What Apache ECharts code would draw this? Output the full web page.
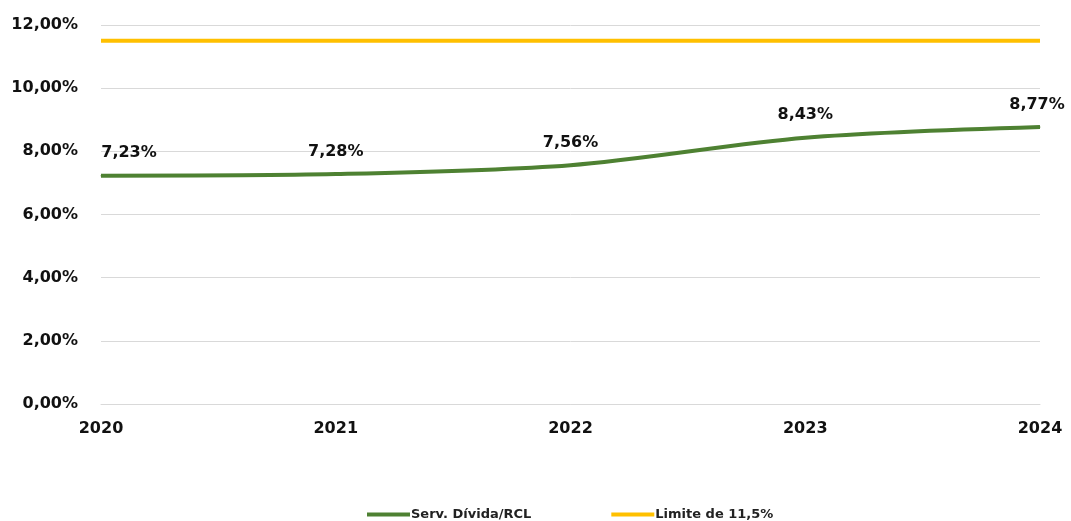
<!DOCTYPE html>
<html>
<head>
<meta charset="utf-8">
<script src="https://cdn.jsdelivr.net/npm/echarts@6/dist/echarts.min.js"></script>
<style>
  html, body { margin: 0; padding: 0; background: #fff; }
  #chart { width: 1071px; height: 521px; }
</style>
</head>
<body>
<div id="chart"></div>
<script>
// dados
const years = ['2020', '2021', '2022', '2023', '2024']
const servDivida = [7.23, 7.28, 7.56, 8.43, 8.77]
const limite = [11.5, 11.5, 11.5, 11.5, 11.5]
const yTicks = { min: 0, max: 12, interval: 2 }

const fmt = v => v.toFixed(2).replace('.', ',') + '%'
const font = 'DejaVu Sans'

const chart = echarts.init(document.getElementById('chart'))

chart.setOption({
  animation: false,
  textStyle: { fontFamily: font },
  grid: { left: 101, right: 31, top: 25, bottom: 117 },
  legend: {
    top: 503,
    left: 362,
    icon: 'rect',
    itemWidth: 43,
    itemHeight: 4,
    itemGap: 80,
    textStyle: { fontSize: 13, fontWeight: 'bold', color: '#222', fontFamily: font, padding: [0, 0, 0, -4] },
    data: ['Serv. Dívida/RCL', 'Limite de 11,5%']
  },
  xAxis: {
    type: 'category',
    data: years,
    boundaryGap: false,
    axisLine: { lineStyle: { color: '#d9d9d9' } },
    axisTick: { show: false },
    axisLabel: { color: '#111', fontSize: 16, fontWeight: 'bold', margin: 17 }
  },
  yAxis: {
    type: 'value',
    min: yTicks.min,
    max: yTicks.max,
    interval: yTicks.interval,
    axisLine: { show: false },
    axisTick: { show: false },
    splitLine: { lineStyle: { color: '#d9d9d9' } },
    axisLabel: { color: '#111', fontSize: 16, fontWeight: 'bold', margin: 23, formatter: v => fmt(v) }
  },
  series: [
    {
      name: 'Serv. Dívida/RCL',
      type: 'line',
      smooth: 0.3,
      symbol: 'circle',
      symbolSize: 1,
      showSymbol: true,
      lineStyle: { color: '#4e8132', width: 4 },
      itemStyle: { color: '#4e8132' },
      label: {
        show: true,
        position: 'top',
        distance: 14,
        color: '#111',
        fontSize: 16,
        fontWeight: 'bold',
        formatter: p => fmt(p.value)
      },
      data: servDivida.map((v, i) => i === 0
        ? { value: v, label: { offset: [28, 0] } }
        : i === servDivida.length - 1
          ? { value: v, label: { offset: [-3, 0] } }
          : v)
    },
    {
      name: 'Limite de 11,5%',
      type: 'line',
      symbol: 'none',
      lineStyle: { color: '#ffc000', width: 4 },
      itemStyle: { color: '#ffc000' },
      data: limite
    }
  ]
})
</script>
</body>
</html>
